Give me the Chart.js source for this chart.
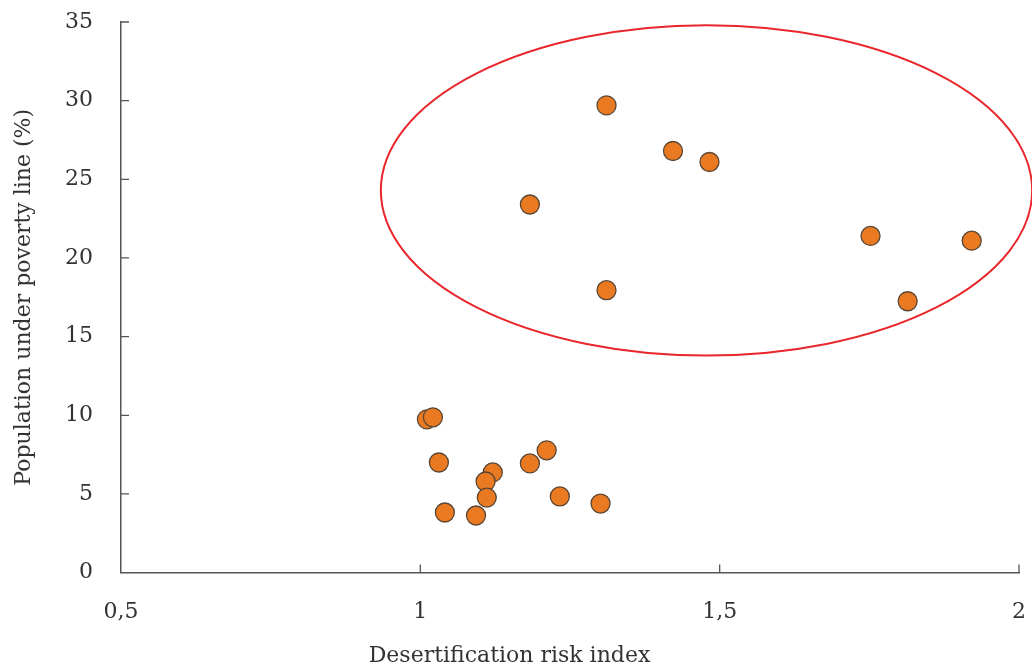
<!DOCTYPE html>
<html>
<head>
<meta charset="utf-8">
<script src="https://cdn.jsdelivr.net/npm/chart.js@4"></script>
<style>
  html, body { margin: 0; padding: 0; background: #fff; overflow: hidden; }
  canvas { display: block; }
</style>
</head>
<body>
<canvas id="chart" width="1032" height="669"></canvas>
<script>
const riskIndex = [1.311, 1.422, 1.483, 1.183, 1.752, 1.921, 1.311, 1.814,
    1.011, 1.021, 1.031, 1.121, 1.109, 1.111, 1.041, 1.093, 1.183, 1.211, 1.233, 1.301];
const povertyPct = [29.7, 26.8, 26.1, 23.4, 21.4, 21.1, 17.95, 17.25,
    9.74, 9.87, 7.0, 6.37, 5.79, 4.77, 3.82, 3.63, 6.94, 7.77, 4.84, 4.39];
const xTicks = [0.5, 1, 1.5, 2];
const yTicks = [0, 5, 10, 15, 20, 25, 30, 35];
// highlighted group, in data units: centre x/y and half-widths
const ringCentre = [1.478, 24.3];
const ringRadius = [0.544, 10.5];

const axisColor = '#555555';
const textColor = '#333333';
const serif = 'DejaVu Serif';

const points = riskIndex.map((x, i) => ({ x, y: povertyPct[i] }));

// ticks point inwards, so draw them ourselves
const inwardTicks = {
    id: 'inwardTicks',
    afterDraw(chart) {
        const { ctx, scales: { x, y } } = chart;
        ctx.save();
        ctx.strokeStyle = axisColor;
        ctx.lineWidth = 1.3;
        ctx.beginPath();
        yTicks.slice(1).forEach(v => {
            const py = y.getPixelForValue(v);
            ctx.moveTo(x.left, py);
            ctx.lineTo(x.left + 8, py);
        });
        xTicks.slice(1).forEach(v => {
            const px = x.getPixelForValue(v);
            ctx.moveTo(px, y.bottom);
            ctx.lineTo(px, y.bottom - 8);
        });
        ctx.stroke();
        ctx.restore();
    }
};

const ring = {
    id: 'ring',
    afterDatasetsDraw(chart) {
        const { ctx, scales: { x, y } } = chart;
        const cx = x.getPixelForValue(ringCentre[0]);
        const cy = y.getPixelForValue(ringCentre[1]);
        const rx = x.getPixelForValue(ringCentre[0] + ringRadius[0]) - cx;
        const ry = cy - y.getPixelForValue(ringCentre[1] + ringRadius[1]);
        ctx.save();
        ctx.strokeStyle = '#e8262b';
        ctx.lineWidth = 2;
        ctx.beginPath();
        ctx.ellipse(cx, cy, rx, ry, 0, 0, Math.PI * 2);
        ctx.stroke();
        ctx.restore();
    }
};

function noPad(s) {
    s.paddingTop = 0;
    s.paddingBottom = 0;
    s.paddingLeft = 0;
    s.paddingRight = 0;
}

new Chart(document.getElementById('chart'), {
    type: 'scatter',
    data: {
        datasets: [{
            data: points,
            backgroundColor: '#e97a22',
            borderColor: '#5a4634',
            borderWidth: 1.3,
            pointRadius: 9.5,
            pointHoverRadius: 9.5
        }]
    },
    options: {
        responsive: false,
        animation: false,
        layout: { padding: { top: 22, right: 13, left: 0, bottom: 0 } },
        plugins: {
            legend: { display: false },
            tooltip: { enabled: false },
            title: {
                display: true,
                position: 'bottom',
                text: 'Desertification risk index',
                color: textColor,
                font: { family: serif, size: 22, weight: 'normal' },
                padding: { top: 0, bottom: 0 }
            }
        },
        scales: {
            x: {
                type: 'linear',
                min: 0.5,
                max: 2,
                afterBuildTicks: s => { s.ticks = xTicks.map(v => ({ value: v })); },
                afterFit: s => { s.height = 70; noPad(s); },
                grid: { drawOnChartArea: false, drawTicks: false },
                border: { display: true, color: axisColor, width: 1.5 },
                ticks: {
                    color: textColor,
                    padding: 26,
                    font: { family: serif, size: 22 },
                    callback: v => String(v).replace('.', ',')
                }
            },
            y: {
                type: 'linear',
                min: 0,
                max: 35,
                afterBuildTicks: s => { s.ticks = yTicks.map(v => ({ value: v })); },
                afterFit: s => { s.width = 121; noPad(s); },
                grid: { drawOnChartArea: false, drawTicks: false },
                border: { display: true, color: axisColor, width: 1.5 },
                ticks: {
                    color: textColor,
                    padding: 28,
                    font: { family: serif, size: 22 }
                },
                title: {
                    display: true,
                    text: 'Population under poverty line (%)',
                    color: textColor,
                    font: { family: serif, size: 22 },
                    padding: { top: 11, bottom: 0 }
                }
            }
        }
    },
    plugins: [ring, inwardTicks]
});
</script>
</body>
</html>
